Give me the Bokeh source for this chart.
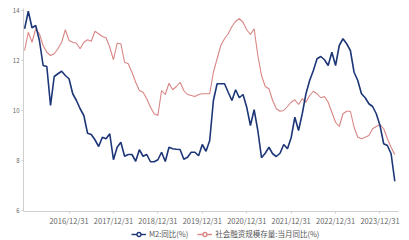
from bokeh.plotting import figure
from bokeh.layouts import column
from bokeh.models import Legend, LegendItem, FixedTicker, Range1d, ColumnDataSource
from bokeh.embed import file_html
from bokeh.resources import INLINE

# monthly data, 2015-12 .. 2024-04 (index 0..100)
m2 = [13.27, 13.97, 13.31, 13.4, 12.8, 11.8, 11.76, 10.2, 11.36, 11.47, 11.57, 11.4, 11.27,
      10.67, 10.4, 10.07, 9.8, 9.09, 9.04, 8.83, 8.56, 8.93, 8.87, 9.07, 8.03,
      8.53, 8.73, 8.17, 8.24, 8.24, 7.97, 8.43, 8.17, 8.24, 7.95, 7.95, 8.03,
      8.33, 7.96, 8.53, 8.47, 8.45, 8.44, 8.05, 8.13, 8.33, 8.33, 8.19, 8.64,
      8.37, 8.8, 10.4, 11.07, 11.07, 11.07, 10.73, 10.4, 10.83, 10.51, 10.64, 10.13,
      9.4, 10.03, 9.2, 8.11, 8.29, 8.53, 8.27, 8.16, 8.29, 8.64, 8.47, 8.91,
      9.73, 9.2, 9.87, 10.67, 11.2, 11.6, 12.07, 12.16, 12.03, 11.8, 12.33, 11.8,
      12.6, 12.87, 12.67, 12.4, 11.53, 11.2, 10.67, 10.51, 10.27, 10.16, 9.87, 9.4,
      8.67, 8.6, 8.27, 7.17]
sf = [12.4, 13.13, 12.73, 13.27, 13.07, 12.6, 12.33, 12.2, 12.27, 12.47, 12.73, 13.23, 12.8,
      12.73, 12.69, 12.47, 12.73, 12.83, 12.77, 13.17, 13.07, 12.96, 12.91, 12.53, 12.03,
      12.69, 12.67, 11.93, 11.87, 11.53, 11.13, 10.8, 10.73, 10.47, 10.13, 9.87, 9.8,
      10.8, 10.64, 11.09, 10.83, 10.96, 11.13, 10.8, 10.64, 10.6, 10.56, 10.64, 10.67,
      10.67, 10.67, 11.53, 12.07, 12.6, 12.87, 13.07, 13.36, 13.57, 13.67, 13.53, 13.23,
      13.04, 13.27, 12.2, 11.4, 10.96, 10.87, 10.4, 10.07, 9.97, 10.0, 10.16, 10.33,
      10.43, 10.24, 10.47, 10.33, 10.6, 10.77, 10.67, 10.51, 10.56, 10.33, 9.93, 9.53,
      9.36, 9.87, 9.97, 9.97, 9.33, 8.93, 8.87, 8.93, 9.0, 9.27, 9.36, 9.44,
      9.27, 8.87, 8.53, 8.24]
months = list(range(len(m2)))
tick_pos = [12, 24, 36, 48, 60, 72, 84, 96]
tick_labels = ["2016/12/31", "2017/12/31", "2018/12/31", "2019/12/31",
               "2020/12/31", "2021/12/31", "2022/12/31", "2023/12/31"]
y_ticks = [6, 8, 10, 12, 14]
series_names = ["M2:同比(%)", "社会融资规模存量:当月同比(%)"]

FONT = "Noto Sans CJK SC"
BLUE = "#1d3677"
RED = "#d98585"

p = figure(width=409, height=228, output_backend="svg", toolbar_location=None,
           x_range=Range1d(-0.3, 101), y_range=Range1d(5.96, 14.08),
           min_border_left=23, min_border_right=11, min_border_top=8, min_border_bottom=10)
p.outline_line_color = None
p.xgrid.visible = False
p.ygrid.visible = False
p.background_fill_color = "white"
p.border_fill_color = "white"

src = ColumnDataSource(dict(x=months, m2=m2, sf=sf))
p.line("x", "sf", source=src, line_color=RED, line_width=1.1)
p.line("x", "m2", source=src, line_color=BLUE, line_width=1.6)

p.xaxis.ticker = FixedTicker(ticks=tick_pos)
p.xaxis.major_label_overrides = {t: l for t, l in zip(tick_pos, tick_labels)}
p.yaxis.ticker = FixedTicker(ticks=y_ticks)
for ax in (p.xaxis, p.yaxis):
    ax.axis_line_color = "#cfcfcf"
    ax.axis_line_width = 1
    ax.major_tick_line_color = "#cfcfcf"
    ax.minor_tick_line_color = None
    ax.major_tick_in = 0
    ax.major_label_text_font = FONT
    ax.major_label_text_color = "#666666"
    ax.major_label_text_font_size = "7.5px"
p.xaxis.major_tick_out = 2
p.yaxis.major_tick_out = 2
p.xaxis.major_label_standoff = 1
p.yaxis.major_label_standoff = 2
p.yaxis.major_label_text_font_size = "6px"

# legend strip under the chart
lg = figure(width=409, height=12, output_backend="svg", toolbar_location=None,
            x_range=Range1d(0, 1), y_range=Range1d(0, 1),
            x_axis_type=None, y_axis_type=None,
            min_border_left=0, min_border_right=0, min_border_top=0, min_border_bottom=0)
lg.outline_line_color = None
lg.xgrid.visible = False
lg.ygrid.visible = False
items = []
for name, col in zip(series_names, [BLUE, RED]):
    rl = lg.line(x=[-10, -9], y=[-10, -9], line_color=col, line_width=1.4)
    rs = lg.scatter(x=[-10], y=[-10], marker="circle", size=7, fill_color="white",
                    line_color=col, line_width=1.3)
    items.append(LegendItem(label=name, renderers=[rl, rs]))
legend = Legend(items=items, orientation="horizontal", location=(108, 1),
                label_text_font=FONT, label_text_font_size="7.5px",
                label_text_color="#555555", glyph_width=15, glyph_height=10,
                label_height=10, label_standoff=3, spacing=9, padding=0, margin=0,
                border_line_color=None, background_fill_alpha=0)
lg.add_layout(legend)

layout = column(p, lg, spacing=0)
open("out.html", "w").write(file_html(layout, INLINE))
